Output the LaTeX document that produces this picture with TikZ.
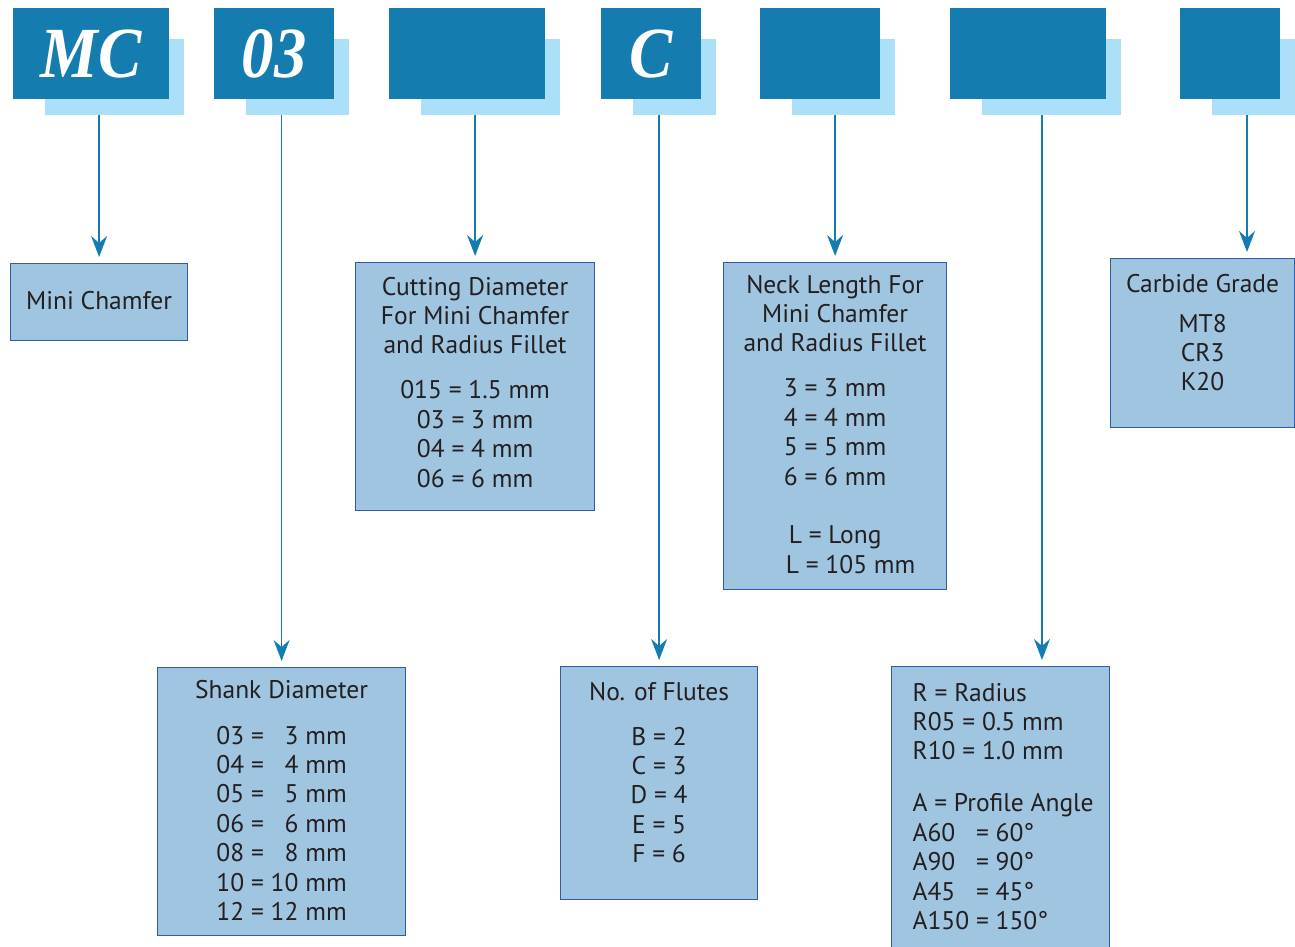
\documentclass[tikz,border=0pt]{standalone}
\usepackage{fontspec}
\setmainfont{PT Sans}
\newfontfamily\codefont{Liberation Serif}[FakeStretch=0.9]
\usetikzlibrary{arrows.meta}

\definecolor{codeblue}{HTML}{147CAF}
\definecolor{shadeblue}{HTML}{ACE0F9}
\definecolor{sheetblue}{HTML}{A0C5E1}
\definecolor{edgeblue}{HTML}{2D5DA2}
\definecolor{ink}{HTML}{231F20}

\newcommand{\sheetbox}[4]{\parbox[c][#2][t]{#1}{\centering\vspace*{#3}\strut#4\par}}

\tikzset{
  code/.style={fill=codeblue, minimum height=91pt, inner sep=0pt, anchor=north west,
    text=white, font=\codefont\bfseries\itshape\fontsize{72}{72}\selectfont},
  shade/.style={fill=shadeblue, minimum height=76pt, inner sep=0pt, anchor=north west},
  sheet/.style={draw=edgeblue, fill=sheetblue, line width=1.2pt, inner sep=0pt, anchor=north west,
    text=ink, font=\fontsize{25.5}{29.4}\selectfont},
  arr/.style={color=codeblue, line width=1.5pt, shorten >=6pt,
    -{Stealth[length=21pt,width=16pt,inset=7pt]}}
}

\begin{document}
\begin{tikzpicture}[x=1pt,y=-1pt]
  \useasboundingbox (0,0) rectangle (1295,947);

  % code letters
  \foreach \n/\x/\w/\t in {mc/13/156/MC, dia/214/120/03, cut/389/156/, flu/601/100/C,
                          neck/760/120/, prof/950/156/, grade/1180/100/} {
    \node[shade, minimum width={(\w-17)*1pt}] (\n s) at (\x+32,39) {};
    \node[code, minimum width={\w*1pt}] (\n) at (\x,8) {\t};
  }

  % key boxes
  \node[sheet] (chamfer) at (10,263) {\sheetbox{177pt}{77pt}{25pt}{Mini Chamfer}};
  \node[sheet] (cutting) at (355,262) {\sheetbox{239pt}{248pt}{12pt}{Cutting Diameter\\
    For Mini Chamfer\\ and Radius Fillet\\[15.6pt]
    015 = 1.5 mm\\ 03 = 3 mm\\ 04 = 4 mm\\ 06 = 6 mm}};
  \node[sheet] (necklen) at (723,262) {\sheetbox{223pt}{327pt}{10pt}{Neck Length For\\
    Mini Chamfer\\ and Radius Fillet\\[15.6pt]
    3 = 3 mm\\ 4 = 4 mm\\ 5 = 5 mm\\ 6 = 6 mm\\[29.4pt]
    L = Long\\ \hspace*{31pt}L = 105 mm}};
  \node[sheet] (carbide) at (1110,258) {\sheetbox{184pt}{169pt}{13pt}{Carbide Grade\\[10.6pt]
    MT8\\ CR3\\ K20}};
  \node[sheet] (shank) at (157,667) {\sheetbox{248pt}{268pt}{10pt}{Shank Diameter\\[16.6pt]
    03 = \phantom{1}3 mm\\ 04 = \phantom{1}4 mm\\ 05 = \phantom{1}5 mm\\
    06 = \phantom{1}6 mm\\ 08 = \phantom{1}8 mm\\ 10 = 10 mm\\ 12 = 12 mm}};
  \node[sheet] (flutes) at (560,666) {\sheetbox{197pt}{233pt}{13pt}{No. of Flutes\\[15.6pt]
    B = 2\\ C = 3\\ D = 4\\ E = 5\\ F = 6}};
  \node[sheet] (radius) at (891,666) {\sheetbox{218pt}{290pt}{14pt}{\raggedright\leftskip=21pt
    R = Radius\\ R05 = 0.5 mm\\ R10 = 1.0 mm\\[22.6pt]
    A = Profile Angle\\ A60\phantom{0} = 60°\\ A90\phantom{0} = 90°\\
    A45\phantom{0} = 45°\\ A150 = 150°}};

  % leaders
  \coordinate (prof a) at (1042,115);
  \coordinate (grade a) at (1247,115);
  \path[arr] (mcs.south -| chamfer) edge (chamfer);
  \path[arr] (dias.south -| shank) edge (shank);
  \path[arr] (cuts.south -| cutting) edge (cutting);
  \path[arr] (flus.south -| flutes) edge (flutes);
  \path[arr] (necks.south -| necklen) edge (necklen);
  \path[arr] (prof a) edge (prof a |- radius.north);
  \path[arr] (grade a) edge (grade a |- carbide.north);
\end{tikzpicture}
\end{document}
